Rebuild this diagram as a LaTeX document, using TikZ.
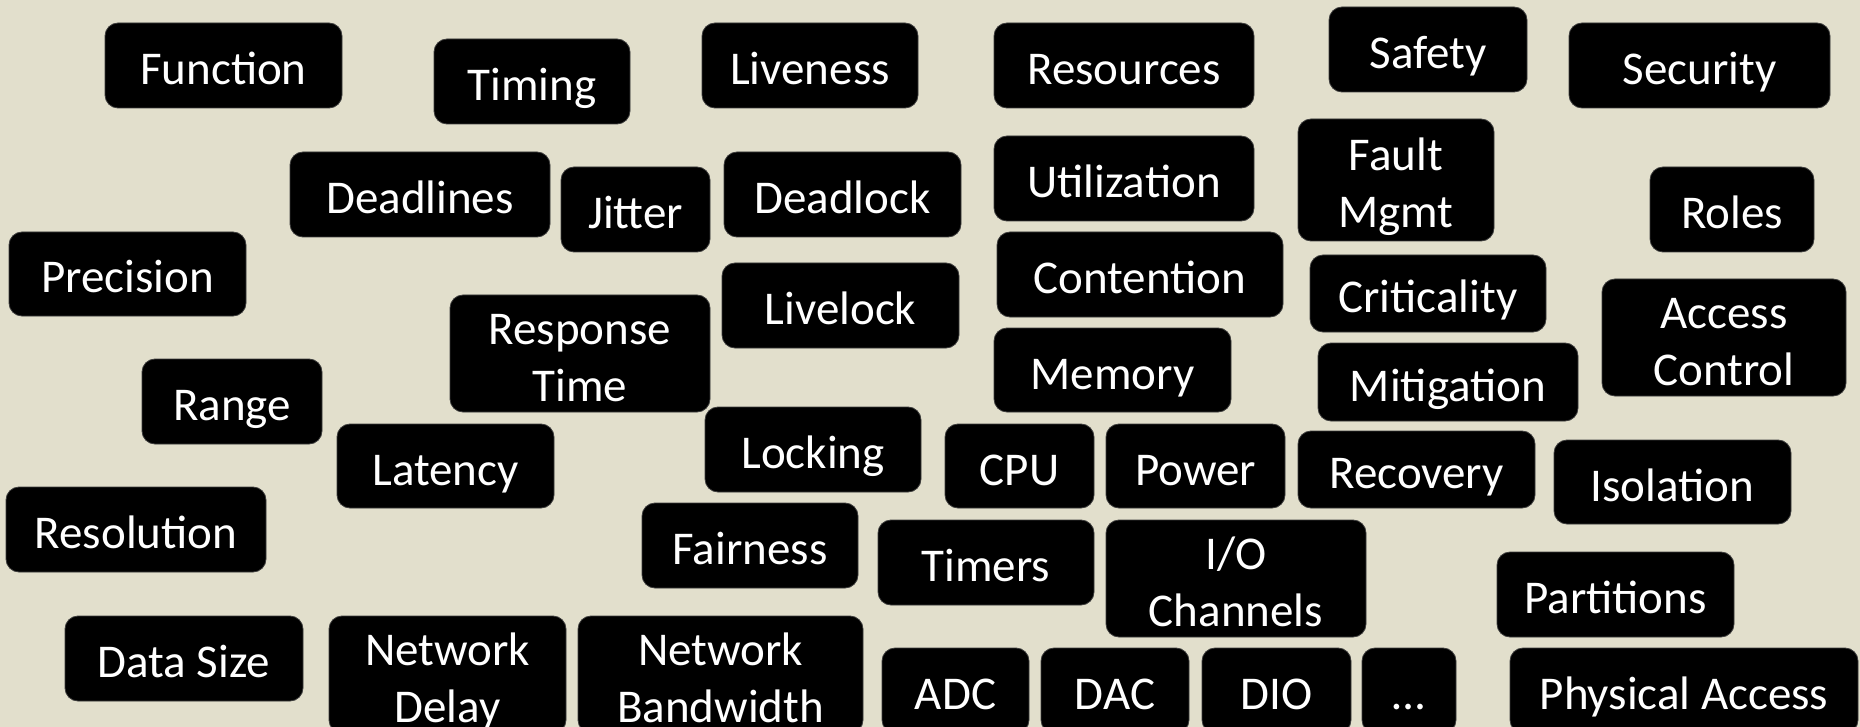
\documentclass[tikz,border=0pt]{standalone}
\usepackage{fontspec}
\setmainfont{Carlito}
\definecolor{bgc}{RGB}{226,223,204}
\definecolor{edge}{RGB}{60,60,60}
\newcommand\twolines[2]{\raisebox{28.5pt}{\vtop{\baselineskip=57pt\lineskiplimit=-100pt\halign{\hfil##\hfil\cr #1\cr #2\cr}}}}
\tikzset{
  tag/.style={fill=black, draw=edge, line width=0.8pt, rounded corners=13pt,
    text=white, inner sep=0pt, outer sep=0pt, text height=40pt, text depth=2pt,
    font=\fontsize{47}{57}\selectfont},
}
% box: name, x1, y1, x2, y2, text
\newcommand\tagbox[6]{\node[tag, minimum width={#4-#2}, minimum height={#5-#3}] (#1) at ({(#2+#4)/2},{(#3+#5)/2}) {#6};}
\begin{document}
\begin{tikzpicture}[x=1pt,y=-1pt]
\useasboundingbox (0,0) rectangle (1860,727);
\fill[bgc] (0,0) rectangle (1860,727);
\begin{scope}
\clip (0,0) rectangle (1860,727);
\tagbox{function}{105}{23}{342}{108}{Function}
\tagbox{timing}{434}{39}{630}{124}{Timing}
\tagbox{liveness}{702}{23}{918}{108}{Liveness}
\tagbox{resources}{994}{23}{1254}{108}{Resources}
\tagbox{safety}{1329}{7}{1527}{92}{Safety}
\tagbox{security}{1569}{23}{1830}{108}{Security}
\tagbox{deadlines}{290}{152}{550}{237}{Deadlines}
\tagbox{jitter}{561}{167}{710}{252}{Jitter}
\tagbox{deadlock}{724}{152}{961}{237}{Deadlock}
\tagbox{utilization}{994}{136}{1254}{221}{Utilization}
\tagbox{fault}{1298}{119}{1494}{241}{\twolines{Fault}{Mgmt}}
\tagbox{roles}{1650}{167}{1814}{252}{Roles}
\tagbox{precision}{9}{232}{246}{316}{Precision}
\tagbox{response}{450}{295}{710}{412}{\twolines{Response}{Time}}
\tagbox{livelock}{722}{263}{959}{348}{Livelock}
\tagbox{contention}{997}{232}{1283}{317}{Contention}
\tagbox{criticality}{1310}{255}{1546}{332}{Criticality}
\tagbox{access}{1602}{279}{1846}{396}{\twolines{Access}{Control}}
\tagbox{memory}{994}{328}{1231}{412}{Memory}
\tagbox{mitigation}{1318}{343}{1578}{421}{Mitigation}
\tagbox{range}{142}{359}{322}{444}{Range}
\tagbox{latency}{337}{424}{554}{508}{Latency}
\tagbox{locking}{705}{407}{921}{492}{Locking}
\tagbox{cpu}{945}{424}{1094}{508}{CPU}
\tagbox{power}{1106}{424}{1285}{508}{Power}
\tagbox{recovery}{1298}{431}{1535}{508}{Recovery}
\tagbox{isolation}{1554}{440}{1791}{524}{Isolation}
\tagbox{resolution}{6}{487}{266}{572}{Resolution}
\tagbox{fairness}{642}{503}{858}{588}{Fairness}
\tagbox{timers}{878}{520}{1094}{605}{Timers}
\tagbox{io}{1106}{520}{1366}{637}{\twolines{I/O}{Channels}}
\tagbox{partitions}{1497}{552}{1734}{637}{Partitions}
\tagbox{datasize}{65}{616}{303}{701}{Data Size}
\tagbox{netdelay}{329}{616}{566}{733}{\twolines{Network}{Delay}}
\tagbox{netbw}{578}{616}{863}{733}{\twolines{Network}{Bandwidth}}
\tagbox{adc}{882}{648}{1029}{733}{ADC}
\tagbox{dac}{1041}{648}{1189}{733}{DAC}
\tagbox{dio}{1202}{648}{1351}{733}{DIO}
\tagbox{more}{1362}{648}{1456}{733}{…}
\tagbox{physical}{1510}{648}{1858}{733}{Physical Access}
\end{scope}
\end{tikzpicture}
\end{document}
